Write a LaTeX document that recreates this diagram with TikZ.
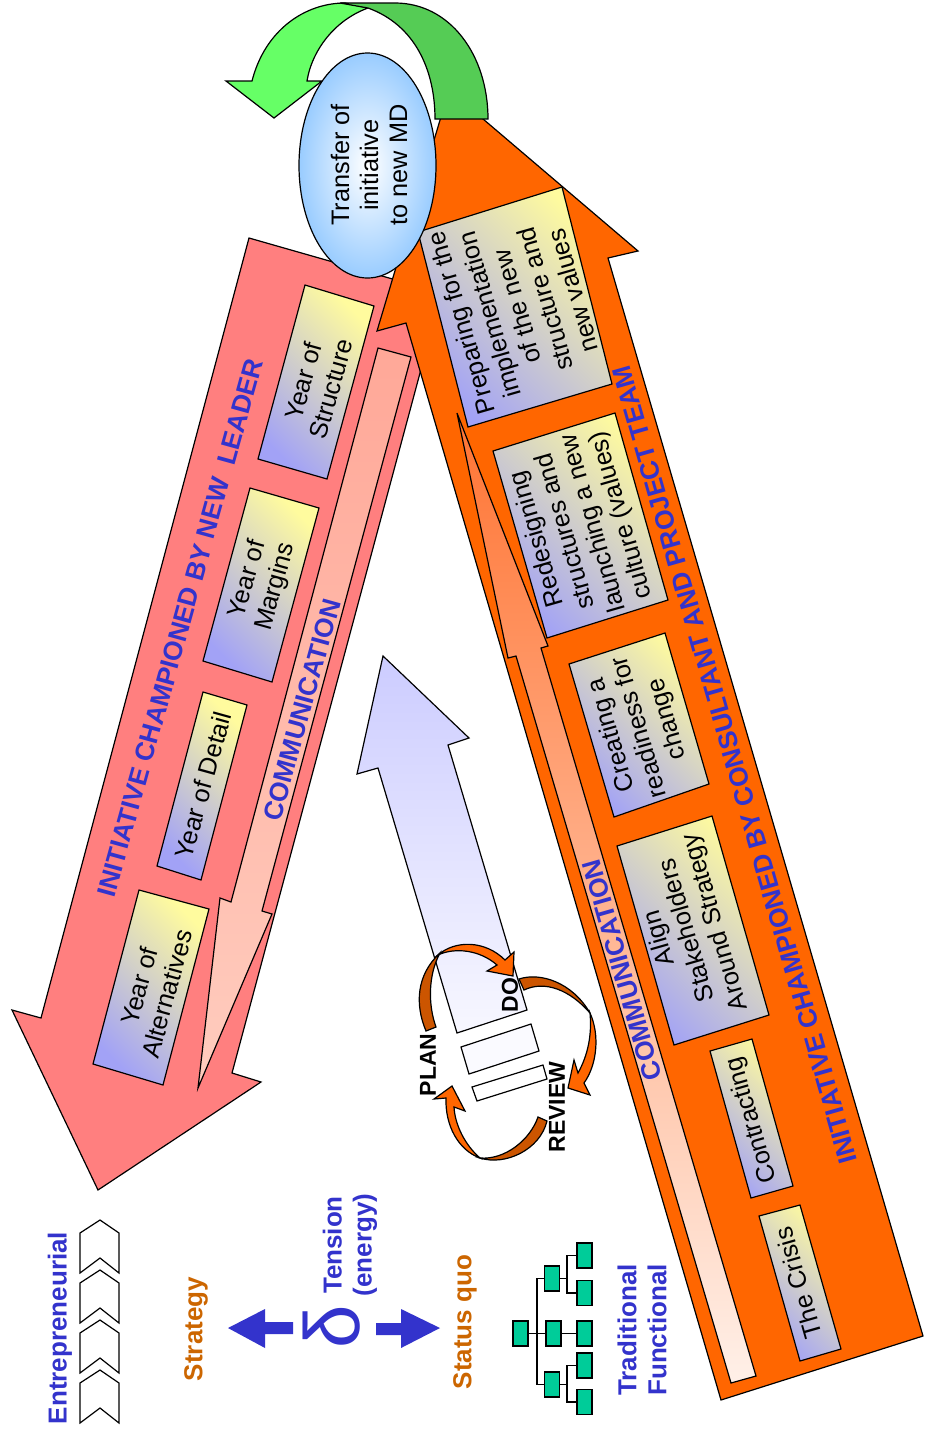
\documentclass[tikz,border=0pt]{standalone}
\usepackage{fontspec}
\setmainfont{Liberation Sans}
\newfontfamily\deltafont{Liberation Sans}
\usetikzlibrary{shapes.geometric,calc}
\definecolor{pinkA}{HTML}{FF7F7F}
\definecolor{orangeA}{HTML}{FF6600}
\definecolor{orangeD}{HTML}{CC5500}
\definecolor{lilac}{HTML}{A2A2F6}
\definecolor{butter}{HTML}{FFFB9E}
\definecolor{blueT}{HTML}{3333CC}
\definecolor{brownT}{HTML}{CC6600}
\definecolor{greenL}{HTML}{66FF66}
\definecolor{greenD}{HTML}{55CC55}
\definecolor{teal}{HTML}{00CC99}
\definecolor{skyB}{HTML}{99CCFF}
\definecolor{ocommT}{HTML}{FF7433}
\definecolor{ocommB}{HTML}{FFF0E8}
\definecolor{pcommT}{HTML}{FFA898}
\definecolor{pcommB}{HTML}{FFCCBE}
\tikzset{
  outl/.style={draw=black,line width=1.2pt,line join=miter},
  gradbox/.style={outl,top color=butter,bottom color=lilac,shading angle=-45},
  boxtext/.style={inner sep=0pt,align=center,text=black,font=\fontsize{25.3}{29}\selectfont},
  headtext/.style={inner sep=0pt,align=center,text=blueT,font=\fontsize{26}{30}\selectfont\bfseries},
  longhead/.style={inner sep=0pt,align=center,text=blueT,font=\fontsize{26.4}{30}\selectfont\bfseries},
  browntext/.style={inner sep=0pt,align=center,text=brownT,font=\fontsize{26}{30}\selectfont\bfseries},
  pdcatext/.style={inner sep=0pt,text=black,font=\fontsize{23}{27}\selectfont\bfseries},
  orgbox/.style={outl,fill=teal,inner sep=0pt,minimum width=15pt,minimum height=25pt},
  orgline/.style={draw=black,line width=1.2pt},
  chev/.style={outl,fill=white}
}
\begin{document}
\begin{tikzpicture}[x=1pt,y=-1pt]
\useasboundingbox[fill=white] (0,0) rectangle (927,1433);
% pink arrow
\draw[outl,fill=pinkA] (249,238) -- (441.5,293) -- (232,1073) -- (261,1082) -- (98,1190) -- (12,1010) -- (41,1018) -- cycle;
\draw[outl,top color=pcommT,bottom color=pcommB] (378,348) -- (411,357) -- (262,911) -- (272,914) -- (198,1088) -- (220,898) -- (231,902) -- cycle;
\draw[gradbox] (305,285) -- (374,306) -- (327,479) -- (258,459) -- cycle;
\draw[gradbox] (250,488) -- (319,508) -- (272,682) -- (203,661) -- cycle;
\draw[gradbox] (203,692) -- (247,705) -- (201,880) -- (157,866) -- cycle;
\draw[gradbox] (139,890) -- (209,909) -- (163,1085) -- (93,1064) -- cycle;
% orange arrow
\draw[outl,fill=orangeA] (449,90) -- (638,251) -- (608,258) -- (923,1336) -- (721,1400) -- (406,323) -- (377,331) -- cycle;
\draw[outl,top color=ocommT,bottom color=ocommB] (457,413) -- (548,646) -- (541,648) -- (756,1376) -- (731,1383) -- (516,656) -- (508,658) -- cycle;
\draw[gradbox] (418,232) -- (562,187) -- (612,384) -- (468,427) -- cycle;
\draw[gradbox] (493,451) -- (615,413) -- (668,600) -- (547,638) -- cycle;
\draw[gradbox] (569,664) -- (665,633) -- (709,784) -- (614,817) -- cycle;
\draw[gradbox] (617,846) -- (712,816) -- (769,1015) -- (674,1045) -- cycle;
\draw[gradbox] (710,1051) -- (752,1039) -- (793,1186) -- (751,1198) -- cycle;
\draw[gradbox] (759,1216) -- (800,1205) -- (841,1349) -- (800,1361) -- cycle;
% curved green arrow
\draw[outl,fill=greenL] (252,81) .. controls (265,30) and (305,3) .. (345,3) -- (368,8) .. controls (335,20) and (312,50) .. (307,81) -- (322,81) -- (274,118) -- (226,81) -- cycle;
\draw[outl,fill=greenD] (435,119) .. controls (435,70) and (415,25) .. (368,8) -- (340,3) -- (395,3) .. controls (450,3) and (488,55) .. (488,119) -- cycle;
% ellipse
\node[ellipse,outl,inner color=white,outer color=skyB,minimum width=137pt,minimum height=225pt,inner sep=0pt] (md) at (367.5,165.5) {};
\node[boxtext,rotate=90] (mdtext) at (369,165) {Transfer of\\initiative\\to new MD};
% central arrow
\draw[outl,top color=blue!20!white,bottom color=blue!3!white] (383,656) -- (469,738) -- (448,745) -- (527,1010) -- (457,1033) -- (378,768) -- (357,774) -- cycle;
\draw[outl,fill=blue!2!white] (461,1047) -- (531,1024) -- (539,1051) -- (469,1074) -- cycle;
\draw[outl,fill=white] (472,1087) -- (543,1065) -- (547,1079) -- (477,1101) -- cycle;
% PDCA arrows
\draw[outl,fill=orangeD] (426,1031) .. controls (415,1005) and (416,975) .. (440,953) .. controls (428,975) and (428,1005) .. (436,1027) -- cycle;
\draw[outl,fill=orangeA] (438,955) .. controls (455,940) and (485,940) .. (505,960) -- (514,952) -- (513,976) -- (487,971) -- (497,965) .. controls (480,950) and (455,947) .. (438,955) -- cycle;
\draw[outl,fill=orangeD] (519,979) .. controls (540,972) and (572,982) .. (590,1013) .. controls (570,990) and (545,980) .. (524,990) -- cycle;
\draw[outl,fill=orangeA] (590,1013) .. controls (600,1035) and (597,1065) .. (584,1083) -- (590,1095) -- (568,1088) -- (574,1060) -- (578,1073) .. controls (588,1055) and (592,1035) .. (590,1013) -- cycle;
\draw[outl,fill=orangeD] (538,1117) .. controls (530,1140) and (505,1160) .. (480,1158) .. controls (505,1166) and (540,1150) .. (547,1121) -- cycle;
\draw[outl,fill=orangeA] (480,1158) .. controls (458,1150) and (445,1125) .. (446,1098) -- (434,1099) -- (452,1086) -- (465,1111) -- (454,1107) .. controls (455,1125) and (465,1145) .. (480,1158) -- cycle;
\node[pdcatext,rotate=90] (plan) at (428,1065) {PLAN};
\node[pdcatext,rotate=90] (do) at (510,995) {DO};
\node[pdcatext,rotate=90] (review) at (557,1107) {REVIEW};
% box texts, pink
\node[boxtext,rotate=74.5] (t1) at (317,385) {Year of\\Structure};
\node[boxtext,rotate=74.5] (t2) at (262,583) {Year of\\Margins};
\node[boxtext,rotate=74.5] (t3) at (203,785) {Year of Detail};
\node[boxtext,rotate=74.5] (t4) at (153,990) {Year of\\Alternatives};
% box texts, orange
\node[boxtext,rotate=106] (t5) at (517,307) {Preparing for the\\implementation\\of the new\\structure and\\new values};
\node[boxtext,rotate=106] (t6) at (580,527) {Redesigning\\structures and\\launching a new\\culture (values)};
\node[boxtext,rotate=106] (t7) at (640,727) {Creating a\\readiness for\\change};
\node[boxtext,rotate=106] (t8) at (688,930) {Align\\Stakeholders\\Around Strategy};
\node[boxtext,rotate=106] (t9) at (752,1120) {Contracting};
\node[boxtext,rotate=106] (t10) at (798,1283) {The Crisis};
% headings
\node[longhead,rotate=74.5] (h1) at (180,628) {INITIATIVE CHAMPIONED BY NEW\ \ LEADER};
\node[longhead,rotate=74.5] (h2) at (302,710) {COMMUNICATION};
\node[longhead,rotate=106] (h3) at (622,970) {COMMUNICATION};
\node[longhead,rotate=106] (h4) at (735,765) {INITIATIVE CHAMPIONED BY CONSULTANT AND PROJECT TEAM};
% bottom legend
\node[headtext,rotate=90] (ent) at (60,1328) {Entrepreneurial};
\foreach \yy in {1220,1270,1320,1370}
  \draw[chev] (80,\yy+13) -- (100,\yy) -- (119,\yy+13) -- (119,\yy+53) -- (100,\yy+38) -- (80,\yy+53) -- cycle;
\node[browntext,rotate=90] (strat) at (196,1329) {Strategy};
\node[browntext,rotate=90] (sq) at (465,1322) {Status quo};
\node[headtext,rotate=90] (tens) at (350,1245) {Tension\\(energy)};
\draw[draw=none,fill=blueT] (228,1328) -- (265,1309) -- (265,1322) -- (293,1322) -- (293,1334) -- (265,1334) -- (265,1348) -- cycle;
\draw[draw=none,fill=blueT] (440,1328) -- (401,1309) -- (401,1323) -- (376,1323) -- (376,1335) -- (401,1335) -- (401,1348) -- cycle;
\node[inner sep=0pt,text=blueT,rotate=90,font=\fontsize{78}{78}\selectfont\deltafont] (delta) at (332,1327) {δ};
% organisation chart
\node[orgbox] (root) at (520.5,1333.5) {};
\node[orgbox] (b1) at (552,1278.5) {};
\node[orgbox] (b2) at (553.5,1333.5) {};
\node[orgbox] (b3) at (552,1384.5) {};
\node[orgbox] (l1) at (584.5,1255.5) {};
\node[orgbox] (l2) at (584.5,1293) {};
\node[orgbox] (l3) at (584.5,1333.5) {};
\node[orgbox] (l4) at (584.5,1365.5) {};
\node[orgbox] (l5) at (584.5,1402) {};
\coordinate (trunk) at (537,1333.5);
\coordinate (j1) at (567,1278.5);
\coordinate (j3) at (567,1384.5);
\draw[orgline] (root.east) -- (b2.west);
\draw[orgline] (b1.west) -| (trunk);
\draw[orgline] (b3.west) -| (trunk);
\draw[orgline] (b2.east) -- (l3.west);
\draw[orgline] (b1.east) -- (j1);
\draw[orgline] (b3.east) -- (j3);
\draw[orgline] (l1.west) -| (j1) |- (l2.west);
\draw[orgline] (l4.west) -| (j3) |- (l5.west);
\node[headtext,rotate=90] (trad) at (642,1330) {Traditional\\Functional};
\end{tikzpicture}
\end{document}
